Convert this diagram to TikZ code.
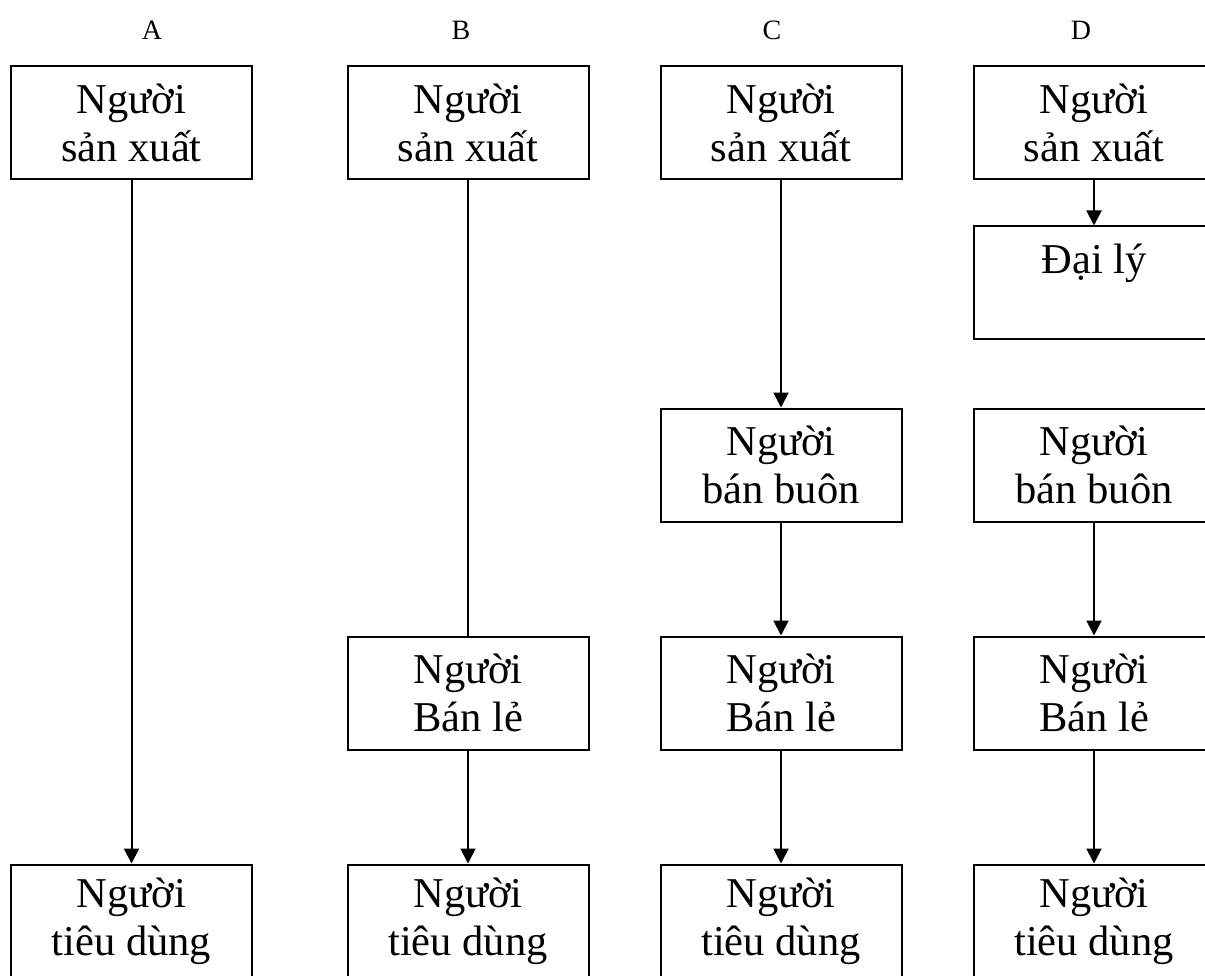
\documentclass[tikz,border=0pt]{standalone}
\usepackage{fontspec}
\setmainfont{Liberation Serif}
\usetikzlibrary{arrows.meta}
\begin{document}
\begin{tikzpicture}[x=1pt,y=-1pt,
  box/.style={draw, line width=2pt, minimum width=241pt, minimum height=113pt,
    align=center, inner sep=0pt, font=\fontsize{42.5}{48}\selectfont},
  hdr/.style={font=\fontsize{28}{32}\selectfont, inner sep=0pt},
  link/.style={line width=2pt},
  arr/.style={line width=2pt, -{Triangle[length=15pt,width=15pt]}}]
\useasboundingbox (0,0) rectangle (1205,976);
\clip (0,0) rectangle (1205,976);
% headers
\node[hdr, anchor=base] (hA) at (152,40) {A};
\node[hdr, anchor=base] (hB) at (461,40) {B};
\node[hdr, anchor=base] (hC) at (772,40) {C};
\node[hdr, anchor=base] (hD) at (1081,40) {D};
% column A
\node[box] (a1) at (131.5,123) {Người\\sản xuất};
\node[box] (a5) at (131.5,921) {Người\\tiêu dùng};
% column B
\node[box] (b1) at (468,123) {Người\\sản xuất};
\node[box] (b4) at (468,693) {Người\\Bán lẻ};
\node[box] (b5) at (468,921) {Người\\tiêu dùng};
% column C
\node[box] (c1) at (781,123) {Người\\sản xuất};
\node[box] (c3) at (781,465) {Người\\bán buôn};
\node[box] (c4) at (781,693) {Người\\Bán lẻ};
\node[box] (c5) at (781,921) {Người\\tiêu dùng};
% column D
\node[box] (d1) at (1094,123) {Người\\sản xuất};
\node[box] (d2) at (1094,283) {Đại lý\\\mbox{}};
\node[box] (d3) at (1094,465) {Người\\bán buôn};
\node[box] (d4) at (1094,693) {Người\\Bán lẻ};
\node[box] (d5) at (1094,921) {Người\\tiêu dùng};
% connectors
\draw[arr] (a1) -- (a5);
\draw[link] (b1) -- (b4);
\draw[arr] (b4) -- (b5);
\draw[arr] (c1) -- (c3);
\draw[arr] (c3) -- (c4);
\draw[arr] (c4) -- (c5);
\draw[arr] (d1) -- (d2);
\draw[arr] (d3) -- (d4);
\draw[arr] (d4) -- (d5);
\end{tikzpicture}
\end{document}
